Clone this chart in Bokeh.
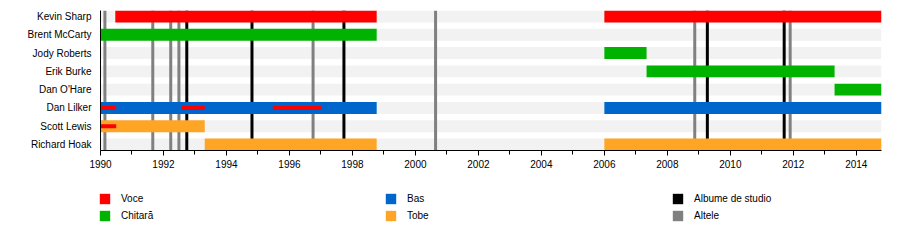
from bokeh.plotting import figure
from bokeh.layouts import column
from bokeh.models import FixedTicker, Legend, LegendItem, Range1d, ColumnDataSource
from bokeh.embed import file_html
from bokeh.resources import INLINE

# ---------------- data ----------------
members = ["Kevin Sharp", "Brent McCarty", "Jody Roberts", "Erik Burke",
           "Dan O'Hare", "Dan Lilker", "Scott Lewis", "Richard Hoak"]

vocals_member = ["Kevin Sharp", "Kevin Sharp"]
vocals_start = [1990.47, 2006.0]
vocals_end = [1998.77, 2014.8]

guitar_member = ["Brent McCarty", "Jody Roberts", "Erik Burke", "Dan O'Hare"]
guitar_start = [1990.0, 2006.0, 2007.34, 2013.31]
guitar_end = [1998.77, 2007.34, 2013.31, 2014.8]

bass_member = ["Dan Lilker", "Dan Lilker"]
bass_start = [1990.0, 2006.0]
bass_end = [1998.77, 2014.8]

drums_member = ["Scott Lewis", "Richard Hoak", "Richard Hoak"]
drums_start = [1990.0, 1993.31, 2006.0]
drums_end = [1993.31, 1998.77, 2014.8]

backvoc_member = ["Dan Lilker", "Dan Lilker", "Dan Lilker", "Scott Lewis"]
backvoc_start = [1990.0, 1992.57, 1995.47, 1990.0]
backvoc_end = [1990.5, 1993.31, 1997.0, 1990.5]

studio_albums = [1992.74, 1994.81, 1997.73, 2009.27, 2011.71]
other_releases = [1990.14, 1991.66, 1992.23, 1992.49, 1996.75, 2000.64, 2008.87, 2011.90]

x_start, x_end = 1990.0, 2014.8
major_years = list(range(1990, 2015, 2))
minor_years = list(range(1990, 2015))

legend_labels = ["Voce", "Chitară", "Bas", "Tobe", "Albume de studio", "Altele"]

# ---------------- styles ----------------
C_RED = "#ff0000"
C_GREEN = "#00b300"
C_BLUE = "#0066cc"
C_ORANGE = "#ffa526"
C_BLACK = "#000000"
C_GRAY = "#808080"
C_STRIPE = "#f2f2f2"
legend_colors = [C_RED, C_GREEN, C_BLUE, C_ORANGE, C_BLACK, C_GRAY]
FONT = "Liberation Sans"
BAR_H = 0.65
THIN_H = 0.22

row = {m: i for i, m in enumerate(members)}
n = len(members)

p = figure(width=900, height=175, output_backend="svg", toolbar_location=None,
           frame_width=781, frame_height=140,
           x_range=Range1d(x_start, x_end),
           y_range=Range1d(n - 1 + BAR_H / 2, -BAR_H / 2))
p.min_border_left = 100
p.min_border_top = 10
p.min_border_right = 19
p.min_border_bottom = 25
p.outline_line_color = None
p.grid.visible = False
p.background_fill_color = "white"
p.border_fill_color = "white"

# background stripes
p.hbar(y=list(range(n)), left=x_start, right=x_end, height=BAR_H,
       fill_color=C_STRIPE, line_color=None)

# release lines
ybot, ytop = n - 1 + BAR_H / 2, -BAR_H / 2
p.segment(x0=other_releases, x1=other_releases, y0=ybot, y1=ytop,
          line_color=C_GRAY, line_width=3)
p.segment(x0=studio_albums, x1=studio_albums, y0=ybot, y1=ytop,
          line_color=C_BLACK, line_width=3)


def bars(mem, st, en, color, h):
    src = ColumnDataSource(dict(y=[row[m] for m in mem], left=st, right=en))
    return p.hbar(y="y", left="left", right="right", height=h, source=src,
                  fill_color=color, line_color=None)


bars(vocals_member, vocals_start, vocals_end, C_RED, BAR_H)
bars(guitar_member, guitar_start, guitar_end, C_GREEN, BAR_H)
bars(bass_member, bass_start, bass_end, C_BLUE, BAR_H)
bars(drums_member, drums_start, drums_end, C_ORANGE, BAR_H)
bars(backvoc_member, backvoc_start, backvoc_end, C_RED, THIN_H)

# axes
xa = p.xaxis[0]
xa.ticker = FixedTicker(ticks=major_years, minor_ticks=minor_years)
xa.major_label_overrides = {y: str(y) for y in major_years}
xa.major_tick_in = 0
xa.major_tick_out = 5
xa.minor_tick_in = 0
xa.minor_tick_out = 4
xa.axis_line_color = "black"
xa.major_tick_line_color = "black"
xa.minor_tick_line_color = "black"
xa.major_label_text_font = FONT
xa.major_label_text_font_size = "10px"
xa.major_label_text_color = "black"
xa.major_label_standoff = 4

ya = p.yaxis[0]
ya.ticker = FixedTicker(ticks=list(range(n)), minor_ticks=[])
ya.major_label_overrides = {i: m for i, m in enumerate(members)}
ya.major_tick_in = 0
ya.major_tick_out = 0
ya.minor_tick_in = 0
ya.minor_tick_out = 0
ya.axis_line_color = "black"
ya.major_label_text_font = FONT
ya.major_label_text_font_size = "10px"
ya.major_label_text_color = "black"
ya.major_label_standoff = 9

# ---------------- legend figure ----------------
pl = figure(width=900, height=65, output_backend="svg", toolbar_location=None,
            frame_width=900, frame_height=65,
            x_range=Range1d(0, 900), y_range=Range1d(0, 65),
            x_axis_type=None, y_axis_type=None)
pl.min_border_left = pl.min_border_right = pl.min_border_top = pl.min_border_bottom = 0
pl.outline_line_color = None
pl.grid.visible = False
pl.background_fill_color = "white"
pl.border_fill_color = "white"

# legend swatch renderers (single point kept outside the visible range)
swatches = [pl.hbar(y=[-100], left=[-100], right=[-99], height=1,
                    fill_color=c, line_color=None)
            for c in legend_colors]

col_x = [98, 384, 671]
for k, vx in enumerate(col_x):
    items = [LegendItem(label=legend_labels[2 * k + j], renderers=[swatches[2 * k + j]])
             for j in range(2)]
    lg = Legend(items=items, location=(vx, 18), orientation="vertical",
                padding=0, margin=0, spacing=4,
                glyph_width=13, glyph_height=13, label_height=13,
                label_standoff=10, label_text_font=FONT,
                label_text_font_size="10px", label_text_color="black",
                border_line_color=None, background_fill_alpha=0)
    pl.add_layout(lg, "center")

layout = column(p, pl, spacing=0)
open("out.html", "w").write(file_html(layout, INLINE))
